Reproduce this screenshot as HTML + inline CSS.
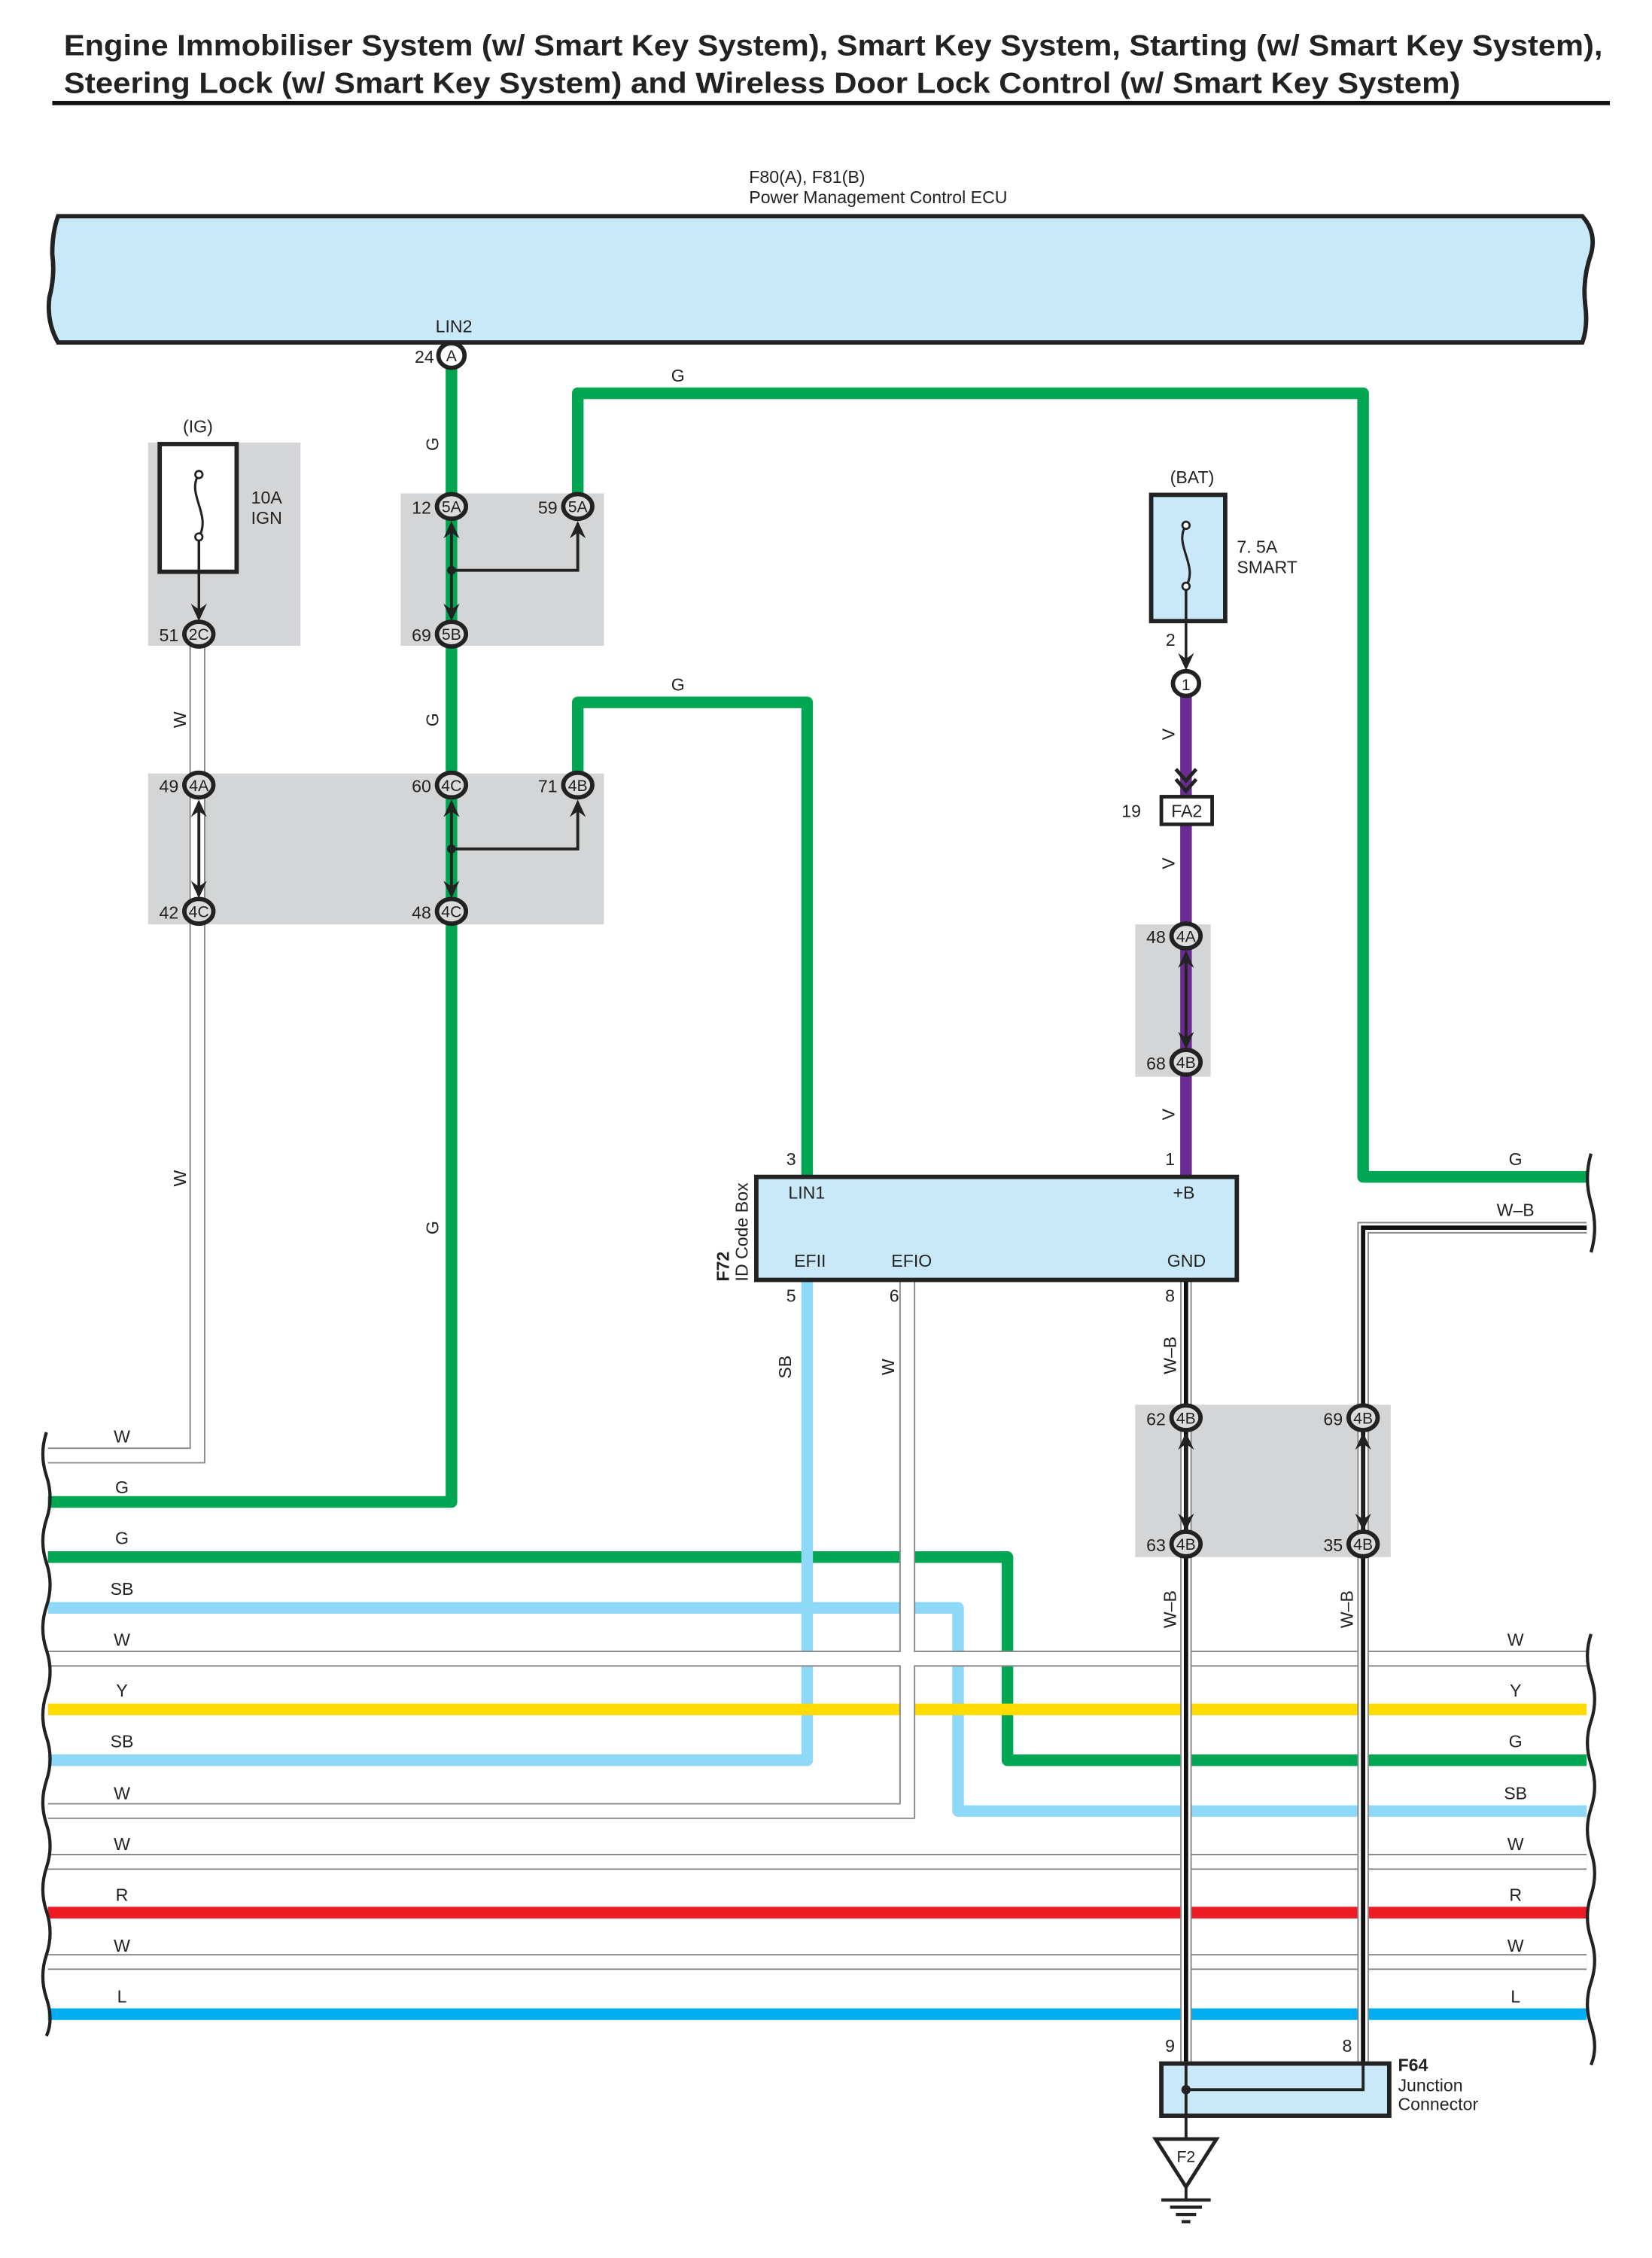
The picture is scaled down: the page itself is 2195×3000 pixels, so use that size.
<!DOCTYPE html>
<html><head><meta charset="utf-8"><style>
html,body{margin:0;padding:0;background:#fff}
svg{display:block}
text{font-family:"Liberation Sans Narrow","Liberation Sans",sans-serif;fill:#222}
</style></head><body>
<svg width="2195" height="3000" viewBox="0 0 1138 1556" preserveAspectRatio="none" xmlns="http://www.w3.org/2000/svg">
<defs>
<g id="ah"><path d="M0,0 L-5.5,-12 L0,-8 L5.5,-12 Z" fill="#222"/></g>
</defs>
<!-- Title -->
<text x="44" y="38" font-weight="bold" font-size="20" textLength="1060" lengthAdjust="spacingAndGlyphs" style="font-family:'Liberation Sans',sans-serif">Engine Immobiliser System (w/ Smart Key System), Smart Key System, Starting (w/ Smart Key System),</text>
<text x="44" y="64" font-weight="bold" font-size="20" textLength="962" lengthAdjust="spacingAndGlyphs" style="font-family:'Liberation Sans',sans-serif">Steering Lock (w/ Smart Key System) and Wireless Door Lock Control (w/ Smart Key System)</text>
<rect x="36" y="69.5" width="1073" height="3" fill="#111"/>

<!-- ECU -->
<text x="516" y="126" font-size="12">F80(A), F81(B)</text>
<text x="516" y="140" font-size="12">Power Management Control ECU</text>
<path d="M40,149 L1090,149 Q1100,160 1096,175 Q1090,192 1092,210 Q1094,225 1090,236 L40,236 Q32,222 34,205 Q38,190 36,175 Q36,160 40,149 Z" fill="#c9e9f9" stroke="#222" stroke-width="3"/>
<text x="300" y="229" font-size="12">LIN2</text>

<!-- gray boxes -->
<rect x="102" y="305" width="105" height="140" fill="#d4d5d7"/>
<rect x="276" y="340" width="140" height="105" fill="#d4d5d7"/>
<rect x="102" y="533" width="314" height="104" fill="#d4d5d7"/>
<rect x="782" y="637" width="52" height="105" fill="#d4d5d7"/>
<rect x="782" y="968" width="176" height="105" fill="#d4d5d7"/>

<!-- thick wires -->
<g fill="none" stroke-width="8" stroke-linejoin="round">
<polyline stroke="#00a651" points="311,245 311,1035 33,1035"/>
<polyline stroke="#00a651" points="398,349 398,271 939,271 939,811 1093,811"/>
<polyline stroke="#00a651" points="398,541 398,484 556,484 556,811"/>
<polyline stroke="#00a651" points="33,1073 694,1073 694,1213 1093,1213"/>
<polyline stroke="#8ed8f8" points="33,1108 660,1108 660,1248 1093,1248"/>
<polyline stroke="#8ed8f8" points="556,882 556,1213 33,1213"/>
<polyline stroke="#ffdc00" points="33,1178 1093,1178"/>
<polyline stroke="#ed1c24" points="33,1318 1093,1318"/>
<polyline stroke="#00aeef" points="33,1388 1093,1388"/>
<polyline stroke="#6b2c91" points="817,480 817,811"/>
</g>
<!-- W wires (hollow) -->
<g fill="none">
<g stroke="#888" stroke-width="11">
<polyline points="136,437 136,1003 33,1003"/>
<polyline points="625,882 625,1248 33,1248"/>
<polyline points="33,1143 1093,1143"/>
<polyline points="33,1283 1093,1283"/>
<polyline points="33,1352 1093,1352"/>
</g>
<g stroke="#fff" stroke-width="9">
<polyline points="136,437 136,1003 33,1003"/>
<polyline points="625,882 625,1248 33,1248"/>
<polyline points="33,1143 1093,1143"/>
<polyline points="33,1283 1093,1283"/>
<polyline points="33,1352 1093,1352"/>
</g>
<g stroke="#888" stroke-width="8">
<polyline points="817,882 817,1440"/>
<polyline points="939,1440 939,846 1093,846"/>
</g>
<g stroke="#fff" stroke-width="6">
<polyline points="817,882 817,1440"/>
<polyline points="939,1440 939,846 1093,846"/>
</g>
<g stroke="#111" stroke-width="3">
<polyline points="817,882 817,1440"/>
<polyline points="939,1440 939,846 1093,846"/>
</g>
</g>

<!-- wavy ends -->
<g fill="none" stroke="#222" stroke-width="2.2">
<path d="M32,987 q-5,15 0,30 q5,15 0,30 q-5,15 0,30 q5,15 0,30 q-5,15 0,30 q5,15 0,30 q-5,15 0,30 q5,15 0,30 q-5,15 0,30 q5,15 0,30 q-5,15 0,30 q5,15 0,30 q-5,15 0,30 q5,15 0,26"/>
<path d="M1096,1126 q-5,15 0,30 q5,15 0,30 q-5,15 0,30 q5,15 0,30 q-5,15 0,30 q5,15 0,30 q-5,15 0,30 q5,15 0,30 q-5,15 0,30 q5,15 0,27"/>
<path d="M1096,795 q-5,17 0,34 q5,17 0,34"/>
</g>

<!-- IG fuse -->
<text x="126" y="298" font-size="12">(IG)</text>
<rect x="110" y="306" width="53" height="88" fill="#fff" stroke="#222" stroke-width="3"/>
<path d="M137,327 C128,340 146,355 137,370" fill="none" stroke="#222" stroke-width="1.6"/>
<circle cx="137" cy="327" r="2.5" fill="#fff" stroke="#222" stroke-width="1.4"/>
<circle cx="137" cy="370" r="2.5" fill="#fff" stroke="#222" stroke-width="1.4"/>
<line x1="137" y1="372" x2="137" y2="424" stroke="#222" stroke-width="1.8"/>
<use href="#ah" x="137" y="428"/>
<text x="173" y="347" font-size="12">10A</text>
<text x="173" y="361" font-size="12">IGN</text>

<!-- BAT fuse -->
<text x="806" y="333" font-size="12">(BAT)</text>
<rect x="793" y="341" width="51" height="87" fill="#c9e9f9" stroke="#222" stroke-width="3"/>
<path d="M817,362 C808,375 826,390 817,404" fill="none" stroke="#222" stroke-width="1.6"/>
<circle cx="817" cy="362" r="2.5" fill="#fff" stroke="#222" stroke-width="1.4"/>
<circle cx="817" cy="404" r="2.5" fill="#fff" stroke="#222" stroke-width="1.4"/>
<line x1="817" y1="406" x2="817" y2="458" stroke="#222" stroke-width="1.8"/>
<use href="#ah" x="817" y="462"/>
<text x="852" y="381" font-size="12">7. 5A</text>
<text x="852" y="395" font-size="12">SMART</text>
<text x="803" y="445" font-size="12">2</text>
<ellipse cx="817" cy="471" rx="9" ry="8.5" fill="#fff" stroke="#222" stroke-width="3"/>
<text x="817" y="475.5" font-size="11" text-anchor="middle">1</text>
<!-- FA2 -->
<path d="M810,530 L817,538 L824,530 M810,537 L817,545 L824,537" fill="none" stroke="#222" stroke-width="2.5"/>
<rect x="800" y="549" width="35" height="19" fill="#fff" stroke="#222" stroke-width="2.5"/>
<text x="817.5" y="563" font-size="12" text-anchor="middle">FA2</text>
<text x="786" y="563" font-size="12" text-anchor="end">19</text>

<!-- internal arrows -->
<g stroke="#222" stroke-width="2" fill="none">
<line x1="311" y1="362" x2="311" y2="424"/>
<polyline points="311,393 398,393 398,362"/>
<line x1="137" y1="554" x2="137" y2="615"/>
<line x1="311" y1="554" x2="311" y2="615"/>
<polyline points="311,585 398,585 398,554"/>
<line x1="817" y1="658" x2="817" y2="719"/>
<line x1="817" y1="990" x2="817" y2="1051"/>
<line x1="939" y1="990" x2="939" y2="1051"/>
</g>
<circle cx="311" cy="393" r="3" fill="#222"/>
<circle cx="311" cy="585" r="3" fill="#222"/>
<g>
<use href="#ah" transform="translate(311,359) rotate(180)"/>
<use href="#ah" transform="translate(398,359) rotate(180)"/>
<use href="#ah" x="311" y="428"/>
<use href="#ah" transform="translate(137,551) rotate(180)"/>
<use href="#ah" transform="translate(311,551) rotate(180)"/>
<use href="#ah" transform="translate(398,551) rotate(180)"/>
<use href="#ah" x="137" y="619"/>
<use href="#ah" x="311" y="619"/>
<use href="#ah" transform="translate(817,655) rotate(180)"/>
<use href="#ah" x="817" y="723"/>
<use href="#ah" transform="translate(817,987) rotate(180)"/>
<use href="#ah" transform="translate(939,987) rotate(180)"/>
<use href="#ah" x="817" y="1055"/>
<use href="#ah" x="939" y="1055"/>
</g>

<!-- connectors -->
<g font-size="11">
<g stroke="#222" stroke-width="3" fill="#dcdcdc">
<ellipse cx="311" cy="245" rx="9" ry="8.5" fill="#fff"/>
<ellipse cx="311" cy="349" rx="10" ry="8.5"/>
<ellipse cx="398" cy="349" rx="10" ry="8.5"/>
<ellipse cx="311" cy="437" rx="10" ry="8.5"/>
<ellipse cx="137" cy="437" rx="10" ry="8.5"/>
<ellipse cx="137" cy="541" rx="10" ry="8.5"/>
<ellipse cx="311" cy="541" rx="10" ry="8.5"/>
<ellipse cx="398" cy="541" rx="10" ry="8.5"/>
<ellipse cx="137" cy="628" rx="10" ry="8.5"/>
<ellipse cx="311" cy="628" rx="10" ry="8.5"/>
<ellipse cx="817" cy="645" rx="10" ry="8.5"/>
<ellipse cx="817" cy="732" rx="10" ry="8.5"/>
<ellipse cx="817" cy="977" rx="10" ry="8.5"/>
<ellipse cx="939" cy="977" rx="10" ry="8.5"/>
<ellipse cx="817" cy="1064" rx="10" ry="8.5"/>
<ellipse cx="939" cy="1064" rx="10" ry="8.5"/>
</g>
<g text-anchor="middle">
<text x="311" y="249">A</text>
<text x="311" y="353">5A</text><text x="398" y="353">5A</text><text x="311" y="441">5B</text>
<text x="137" y="441">2C</text>
<text x="137" y="545">4A</text><text x="311" y="545">4C</text><text x="398" y="545">4B</text>
<text x="137" y="632">4C</text><text x="311" y="632">4C</text>
<text x="817" y="649">4A</text><text x="817" y="736">4B</text>
<text x="817" y="981">4B</text><text x="939" y="981">4B</text>
<text x="817" y="1068">4B</text><text x="939" y="1068">4B</text>
</g>
<g text-anchor="end" font-size="12">
<text x="299" y="250">24</text>
<text x="297" y="354">12</text><text x="384" y="354">59</text><text x="297" y="442">69</text>
<text x="123" y="442">51</text>
<text x="123" y="546">49</text><text x="297" y="546">60</text><text x="384" y="546">71</text>
<text x="123" y="633">42</text><text x="297" y="633">48</text>
<text x="803" y="650">48</text><text x="803" y="737">68</text>
<text x="803" y="982">62</text><text x="925" y="982">69</text>
<text x="803" y="1069">63</text><text x="925" y="1069">35</text>
</g>
</g>

<!-- F72 -->
<rect x="521" y="811" width="331" height="71" fill="#c9e9f9" stroke="#222" stroke-width="3"/>
<g font-size="12">
<text x="543" y="826">LIN1</text>
<text x="808" y="826">+B</text>
<text x="547" y="873">EFII</text>
<text x="614" y="873">EFIO</text>
<text x="804" y="873">GND</text>
<text x="545" y="803" text-anchor="middle">3</text>
<text x="806" y="803" text-anchor="middle">1</text>
<text x="545" y="897" text-anchor="middle">5</text>
<text x="616" y="897" text-anchor="middle">6</text>
<text x="806" y="897" text-anchor="middle">8</text>
</g>
<text transform="translate(502,883) rotate(-90)" font-size="12" font-weight="bold" style="font-family:'Liberation Sans',sans-serif">F72</text>
<text transform="translate(515,883) rotate(-90)" font-size="12" style="font-family:'Liberation Sans',sans-serif">ID Code Box</text>

<!-- vertical wire labels -->
<g font-size="12" text-anchor="middle">
<text transform="translate(302,306) rotate(-90)">G</text>
<text transform="translate(302,496) rotate(-90)">G</text>
<text transform="translate(302,846) rotate(-90)">G</text>
<text transform="translate(128,496) rotate(-90)">W</text>
<text transform="translate(128,812) rotate(-90)">W</text>
<text transform="translate(809,506) rotate(-90)">V</text>
<text transform="translate(809,595) rotate(-90)">V</text>
<text transform="translate(809,768) rotate(-90)">V</text>
<text transform="translate(545,942) rotate(-90)">SB</text>
<text transform="translate(616,942) rotate(-90)">W</text>
<text transform="translate(810,934) rotate(-90)">W–B</text>
<text transform="translate(810,1109) rotate(-90)">W–B</text>
<text transform="translate(932,1109) rotate(-90)">W–B</text>
</g>
<!-- horizontal labels -->
<g font-size="12" text-anchor="middle">
<text x="467" y="263">G</text>
<text x="467" y="476">G</text>
<text x="1044" y="803">G</text>
<text x="1044" y="838">W–B</text>
<text x="84" y="994">W</text>
<text x="84" y="1029">G</text>
<text x="84" y="1064">G</text>
<text x="84" y="1099">SB</text>
<text x="84" y="1134">W</text><text x="1044" y="1134">W</text>
<text x="84" y="1169">Y</text><text x="1044" y="1169">Y</text>
<text x="84" y="1204">SB</text><text x="1044" y="1204">G</text>
<text x="84" y="1240">W</text><text x="1044" y="1240">SB</text>
<text x="84" y="1275">W</text><text x="1044" y="1275">W</text>
<text x="84" y="1310">R</text><text x="1044" y="1310">R</text>
<text x="84" y="1345">W</text><text x="1044" y="1345">W</text>
<text x="84" y="1380">L</text><text x="1044" y="1380">L</text>
</g>

<!-- F64 -->
<text x="806" y="1414" font-size="12" text-anchor="middle">9</text>
<text x="928" y="1414" font-size="12" text-anchor="middle">8</text>
<rect x="800" y="1422" width="157" height="36" fill="#c9e9f9" stroke="#222" stroke-width="3"/>
<line x1="817" y1="1420" x2="817" y2="1474" stroke="#222" stroke-width="2"/>
<polyline points="939,1420 939,1440 817,1440" fill="none" stroke="#222" stroke-width="2"/>
<circle cx="817" cy="1440" r="3.2" fill="#222"/>
<text x="963" y="1427" font-size="12" font-weight="bold">F64</text>
<text x="963" y="1441" font-size="12">Junction</text>
<text x="963" y="1454" font-size="12">Connector</text>
<!-- ground -->
<path d="M796,1474 L838,1474 L817,1507 Z" fill="#fff" stroke="#222" stroke-width="2.5"/>
<text x="817" y="1490" font-size="11" text-anchor="middle">F2</text>
<line x1="817" y1="1507" x2="817" y2="1515" stroke="#222" stroke-width="2"/>
<g stroke="#222" stroke-width="2.2">
<line x1="800" y1="1516" x2="834" y2="1516"/>
<line x1="806" y1="1521" x2="828" y2="1521"/>
<line x1="810" y1="1526" x2="824" y2="1526"/>
<line x1="814" y1="1531" x2="820" y2="1531"/>
</g>
</svg>
</body></html>
